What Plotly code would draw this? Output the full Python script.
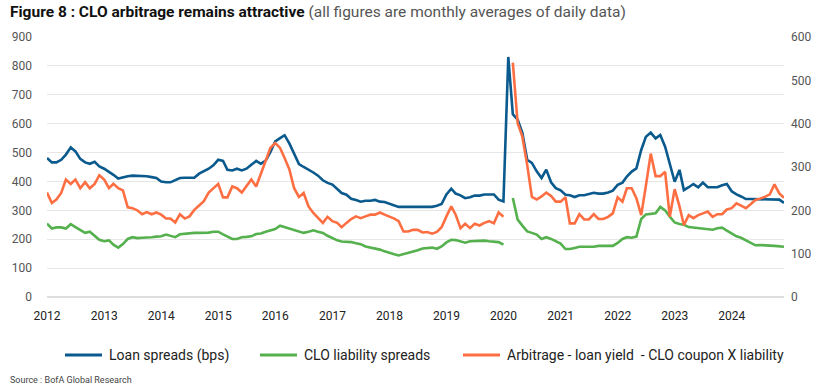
import plotly.graph_objects as go
import pandas as pd

dates = pd.date_range("2012-01-01", "2024-12-01", freq="MS")

loan_spreads = [
    481, 466, 466, 475, 493, 518, 504, 478, 466, 461, 468, 452,
    444, 434, 423, 410, 415, 418, 420, 420, 419, 418, 415, 412,
    400, 397, 397, 404, 412, 413, 412, 413, 427, 435, 444, 456,
    475, 471, 440, 438, 444, 438, 444, 458, 471, 461, 472, 501,
    539, 550, 560, 531, 498, 460, 450, 441, 431, 420, 404, 395,
    389, 374, 360, 354, 340, 336, 330, 333, 333, 336, 330, 329,
    323, 318, 312, 312, 313, 312, 312, 312, 310, 312, 316, 322,
    355, 375, 358, 352, 342, 345, 351, 351, 355, 355, 355, 337,
    331, 831, 633, 614, 568, 475, 464, 435, 412, 441, 397, 377,
    369, 354, 352, 346, 352, 352, 356, 361, 358, 358, 362, 368,
    388, 396, 417, 434, 445, 509, 555, 569, 549, 561, 520, 463,
    399, 440, 370, 380, 391, 380, 396, 380, 380, 380, 387, 391,
    366, 355, 348, 339, 339, 339, 339, 339, 339, 339, 337, 326,
]

clo_liability = [
    254, 237, 241, 241, 237, 252, 242, 233, 222, 226, 212, 198,
    193, 196, 181, 171, 183, 201, 207, 204, 205, 205, 207, 209,
    210, 216, 212, 207, 217, 219, 220, 222, 222, 222, 223, 226,
    226, 217, 210, 201, 201, 207, 208, 210, 218, 220, 226, 231,
    235, 247, 242, 237, 232, 227, 222, 226, 231, 226, 222, 212,
    204, 196, 192, 192, 190, 186, 183, 175, 172, 168, 164, 158,
    152, 148, 144, 148, 152, 156, 162, 168, 170, 171, 167, 175,
    189, 198, 197, 193, 188, 193, 194, 193, 195, 193, 192, 190,
    181, None, 343, 268, 247, 227, 222, 216, 201, 207, 201, 193,
    185, 166, 166, 170, 174, 174, 174, 174, 177, 177, 177, 177,
    187, 201, 207, 205, 209, 270, 286, 287, 290, 312, 300, 278,
    258, 253, 250, 242, 240, 239, 238, 235, 233, 238, 240, 230,
    220, 210, 205, 196, 186, 179, 180, 180, 178, 177, 176, 174,
]

# right axis (0-600)
arbitrage = [
    241, 217, 225, 240, 271, 261, 271, 251, 265, 251, 261, 281,
    271, 251, 261, 251, 246, 207, 205, 200, 191, 196, 191, 195,
    190, 181, 181, 172, 191, 181, 186, 201, 211, 221, 241, 251,
    261, 230, 230, 255, 251, 241, 255, 271, 255, 286, 317, 344,
    355, 344, 321, 294, 251, 231, 240, 209, 194, 182, 171, 185,
    175, 171, 161, 171, 180, 186, 182, 186, 190, 190, 195, 190,
    186, 181, 175, 151, 151, 155, 155, 149, 150, 146, 150, 161,
    186, 209, 190, 159, 169, 159, 169, 165, 171, 175, 170, 195,
    185, None, 541, 401, 370, 305, 231, 225, 232, 241, 233, 220,
    220, 230, 170, 170, 191, 179, 179, 191, 180, 180, 185, 193,
    230, 220, 251, 251, 228, 189, 257, 331, 279, 279, 289, 185,
    249, 209, 166, 189, 182, 189, 193, 197, 185, 191, 191, 202,
    205, 216, 211, 205, 214, 224, 227, 231, 237, 260, 239, 229,
]

series_names = [
    "Loan spreads (bps)",
    "CLO liability spreads",
    "Arbitrage - loan yield  - CLO coupon X liability",
]

left_ticks = list(range(0, 1000, 100))
right_ticks = list(range(0, 700, 100))
year_ticks = pd.date_range("2012-01-01", "2024-01-01", freq="YS")
year_labels = [str(d.year) for d in year_ticks]

BLUE = "#0a5a8e"
GREEN = "#55b04e"
ORANGE = "#fd6f42"
COLORS = [BLUE, GREEN, ORANGE]
FONT = "Roboto"

ML, MT, PW, PH = 47, 37, 737, 260


def px_x(px):
    return (px - ML) / PW


def px_y(py):
    return (MT + PH - py) / PH


fig = go.Figure()
fig.add_trace(go.Scatter(x=dates, y=loan_spreads, mode="lines", name=series_names[0],
                         line=dict(color=BLUE, width=2.6), connectgaps=False))
fig.add_trace(go.Scatter(x=dates, y=clo_liability, mode="lines", name=series_names[1],
                         line=dict(color=GREEN, width=2.6), connectgaps=False))
fig.add_trace(go.Scatter(x=dates, y=arbitrage, mode="lines", yaxis="y2", name=series_names[2],
                         line=dict(color=ORANGE, width=2.6), connectgaps=False))

fig.update_layout(
    width=830, height=389,
    margin=dict(l=ML, r=830 - ML - PW, t=MT, b=389 - MT - PH, autoexpand=False),
    paper_bgcolor="white", plot_bgcolor="white",
    font=dict(family=FONT, color="#444444", size=12),
    showlegend=False,
    xaxis=dict(type="date", range=[dates[0], dates[-1]], tickvals=year_ticks, ticktext=year_labels,
               showgrid=False, zeroline=False, showline=False, ticks="", automargin=False,
               ticklabelstandoff=10,
               tickfont=dict(size=12, color="#222222")),
    yaxis=dict(range=[0, 900], tickvals=left_ticks, showgrid=True, gridcolor="#e6e6e6",
               gridwidth=1, zeroline=True, zerolinecolor="#dddddd", showline=False,
               ticks="", automargin=False,
               tickfont=dict(size=12, color="#555555"), ticklabelstandoff=14),
    yaxis2=dict(range=[0, 600], tickvals=right_ticks, overlaying="y", side="right",
                showgrid=False, zeroline=False, showline=False, ticks="", automargin=False,
                tickfont=dict(size=12, color="#555555"), ticklabelstandoff=6),
)

# legend (drawn manually to match the reference spacing)
legend_line_x = [65, 260, 463]
for name, color, lx in zip(series_names, COLORS, legend_line_x):
    fig.add_shape(type="line", xref="paper", yref="paper",
                  x0=px_x(lx), x1=px_x(lx + 37), y0=px_y(355), y1=px_y(355),
                  line=dict(color=color, width=3))
    fig.add_annotation(xref="paper", yref="paper", x=px_x(lx + 42), y=px_y(355),
                       xanchor="left", yanchor="middle", showarrow=False, text=name,
                       font=dict(size=14, color="#222222", family=FONT))

fig.add_annotation(xref="paper", yref="paper", x=px_x(8), y=px_y(12), xanchor="left", yanchor="middle",
                   showarrow=False,
                   text="<b>Figure 8 : CLO arbitrage remains attractive</b> <span style='color:#555555'>(all figures are monthly averages of daily data)</span>",
                   font=dict(size=15.5, color="#111111", family=FONT))
fig.add_annotation(xref="paper", yref="paper", x=px_x(8), y=px_y(380), xanchor="left", yanchor="middle",
                   showarrow=False, text="Source : BofA Global Research",
                   font=dict(size=9, color="#444444", family=FONT))

fig.write_html("out.html", config={"displayModeBar": False},
               post_script="document.body.style.margin='0';")
